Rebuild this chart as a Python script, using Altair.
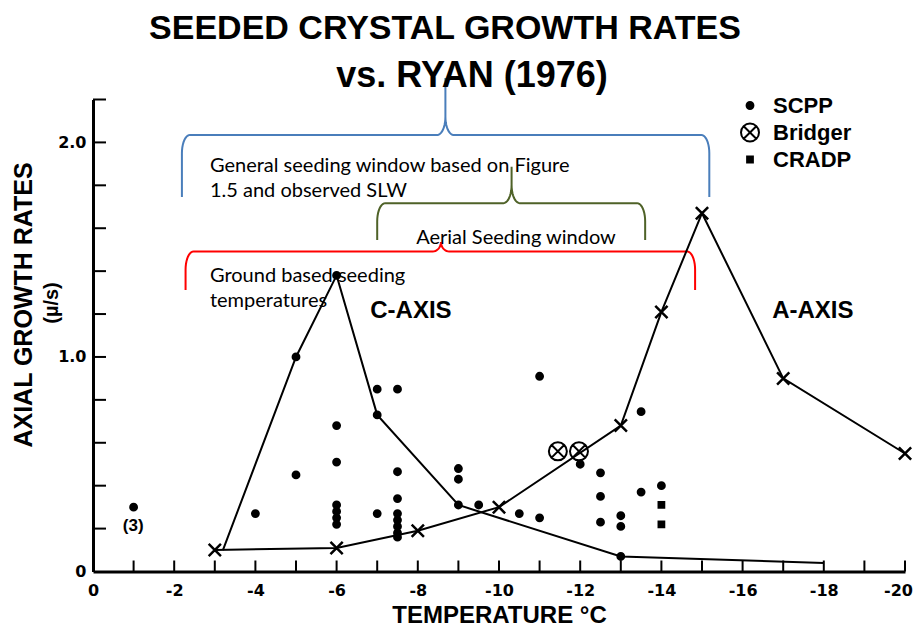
import math
import altair as alt
import pandas as pd

# ---------------- data ----------------
# Ryan (1976) reference curves
ryan_c_temp = [-3.2, -5.0, -6.0, -7.0, -9.0, -13.0, -18.0]
ryan_c_rate = [0.10, 1.00, 1.38, 0.73, 0.31, 0.07, 0.04]
ryan_a_temp = [-3.0, -6.0, -8.0, -10.0, -13.0, -14.0, -15.0, -17.0, -20.0]
ryan_a_rate = [0.10, 0.11, 0.19, 0.30, 0.68, 1.21, 1.67, 0.90, 0.55]

# observations
scpp_temp = [-1.0, -4.0, -5.0, -5.0, -6.0, -6.0, -6.0, -6.0, -6.0, -6.0, -6.0,
             -7.0, -7.0, -7.0, -7.5, -7.5, -7.5, -7.5, -7.5, -7.5, -7.5, -7.5,
             -9.0, -9.0, -9.0, -9.5, -10.5, -11.0, -11.0, -12.0, -12.5, -12.5,
             -12.5, -13.0, -13.0, -13.0, -13.5, -13.5, -14.0]
scpp_rate = [0.30, 0.27, 1.00, 0.45, 1.38, 0.68, 0.51, 0.31, 0.28, 0.25, 0.22,
             0.85, 0.73, 0.27, 0.85, 0.465, 0.34, 0.27, 0.24, 0.21, 0.18, 0.16,
             0.48, 0.43, 0.31, 0.31, 0.27, 0.91, 0.25, 0.50, 0.46, 0.35,
             0.23, 0.26, 0.21, 0.07, 0.745, 0.37, 0.40]
bridger_temp = [-11.45, -11.97]
bridger_rate = [0.56, 0.56]
cradp_temp = [-14.0, -14.0]
cradp_rate = [0.31, 0.22]

sources = ["SCPP", "Bridger", "CRADP"]

# axis ticks
x_label_values = list(range(0, -21, -2))
x_minor_ticks = list(range(-1, -21, -1))
y_label_values = [0, 1.0, 2.0]
y_minor_ticks = [round(0.2 * i, 1) for i in range(1, 12)]

# seeding-window braces (temperature range, bar level, arm end, tip)
brace_names = ["General", "Aerial", "Ground"]
brace_left = [-2.19, -7.0, -2.28]
brace_right = [-15.18, -13.6, -14.83]
brace_center = [-8.68, -10.31, -8.57]
brace_bar = [2.035, 1.717, 1.492]
brace_end = [1.746, 1.545, 1.312]
brace_tip = [2.30, 1.887, 1.536]
brace_colors = ["#4A7EBB", "#4F6228", "#FF0000"]

# annotation texts
note_text = ["General seeding window based on Figure", "1.5 and observed SLW",
             "Aerial Seeding window", "Ground based seeding", "temperatures"]
note_temp = [-2.88, -2.88, -7.96, -2.88, -2.88]
note_rate = [1.89, 1.774, 1.555, 1.378, 1.261]

curve_labels = ["C-AXIS", "A-AXIS"]
curve_label_temp = [-7.83, -17.73]
curve_label_rate = [1.212, 1.212]

# ---------------- chart construction ----------------
W, H = 812, 472
FONT = "Liberation Sans"

xs = alt.Scale(domain=[-20, 0], reverse=True, nice=False, zero=False)
ys = alt.Scale(domain=[0, 2.2], nice=False, zero=False)

xaxis = alt.Axis(values=x_label_values,
                 labelExpr="datum.value == 0 ? '0' : '-' + abs(datum.value)",
                 labelOffset={"condition": {"test": "datum.value == -20", "value": -7}, "value": 0},
                 ticks=False, grid=False, domainWidth=3, domainColor="black",
                 labelFont="DejaVu Sans", labelFontWeight="bold", labelFontSize=16,
                 labelColor="black", labelPadding=11, labelFlush=False, labelOverlap=False,
                 title="TEMPERATURE °C", titleFont=FONT, titleFontWeight="bold",
                 titleFontSize=24, titleColor="black", titlePadding=5)
yaxis = alt.Axis(values=y_label_values,
                 labelExpr="datum.value == 0 ? '0' : format(datum.value, '.1f')",
                 ticks=False, grid=False, domainWidth=3, domainColor="black",
                 labelFont="DejaVu Sans", labelFontWeight="bold", labelFontSize=16,
                 labelColor="black", labelPadding=7, labelFlush=False, labelOverlap=False,
                 title=None)

X = alt.X("t:Q", scale=xs, axis=xaxis)
Y = alt.Y("r:Q", scale=ys, axis=yaxis)


def brace_rows(name, xl, xr, xc, yb, ye, yt, rx=0.2, ry=0.085, n=10):
    ul, ur, uc = -xl, -xr, -xc
    ryt = min(ry, yt - yb)
    pts = [(ul, ye), (ul, yb - ry)]
    for k in range(1, n + 1):
        a = k / n * math.pi / 2
        pts.append((ul + rx - rx * math.cos(a), yb - ry + ry * math.sin(a)))
    pts.append((uc - rx, yb))
    for k in range(1, n + 1):
        a = k / n * math.pi / 2
        pts.append((uc - rx + rx * math.sin(a), yb + ryt - ryt * math.cos(a)))
    pts.append((uc, yt))
    for k in range(0, n + 1):
        a = k / n * math.pi / 2
        pts.append((uc + rx - rx * math.cos(a), yb + ryt - ryt * math.sin(a)))
    pts.append((ur - rx, yb))
    for k in range(1, n + 1):
        a = k / n * math.pi / 2
        pts.append((ur - rx + rx * math.sin(a), yb - ry + ry * math.cos(a)))
    pts.append((ur, ye))
    return [{"brace": name, "i": i, "t": -u, "r": v} for i, (u, v) in enumerate(pts)]


brace_records = []
for j in range(len(brace_names)):
    brace_records += brace_rows(brace_names[j], brace_left[j], brace_right[j], brace_center[j],
                                brace_bar[j], brace_end[j], brace_tip[j])
brace_df = pd.DataFrame(brace_records)

braces = alt.Chart(brace_df).mark_line(strokeWidth=2, clip=False).encode(
    x=X, y=Y, detail="brace:N", order="i:Q",
    color=alt.Color("brace:N", scale=alt.Scale(domain=brace_names, range=brace_colors), legend=None))

ryan_df = pd.DataFrame(
    [{"curve": "C", "i": i, "t": t, "r": r} for i, (t, r) in enumerate(zip(ryan_c_temp, ryan_c_rate))]
    + [{"curve": "A", "i": i, "t": t, "r": r} for i, (t, r) in enumerate(zip(ryan_a_temp, ryan_a_rate))])

ryan_lines = alt.Chart(ryan_df).mark_line(color="black", strokeWidth=2).encode(
    x=X, y=Y, detail="curve:N", order="i:Q")

X_PATH = "M-1,-1L1,1M-1,1L1,-1"
ryan_marks = alt.Chart(pd.DataFrame({"t": ryan_a_temp, "r": ryan_a_rate})).mark_point(
    shape=X_PATH, size=150, strokeWidth=2.5, color="black", filled=False, opacity=1).encode(x=X, y=Y)

obs_df = pd.DataFrame(
    [{"source": "SCPP", "t": t, "r": r} for t, r in zip(scpp_temp, scpp_rate)]
    + [{"source": "Bridger", "t": t, "r": r} for t, r in zip(bridger_temp, bridger_rate)]
    + [{"source": "CRADP", "t": t, "r": r} for t, r in zip(cradp_temp, cradp_rate)])

DOT = "M-0.38,0A0.38,0.38,0,1,1,0.38,0A0.38,0.38,0,1,1,-0.38,0Z"
OTIMES = "M-1,0A1,1,0,1,1,1,0A1,1,0,1,1,-1,0ZM-0.7,-0.7L0.7,0.7M-0.7,0.7L0.7,-0.7"
SQUARE = "M-0.32,-0.32L0.32,-0.32L0.32,0.32L-0.32,0.32Z"

legend = alt.Legend(title=None, orient="none", legendX=646, legendY=-5,
                    labelFont=FONT, labelFontWeight="bold", labelFontSize=22,
                    labelColor="black", symbolSize=324, symbolStrokeWidth=2,
                    rowPadding=3, labelOffset=12, padding=0)

obs = alt.Chart(obs_df).mark_point(size=324, strokeWidth=2, opacity=1).encode(
    x=X, y=Y,
    shape=alt.Shape("source:N", scale=alt.Scale(domain=sources, range=[DOT, OTIMES, SQUARE]), legend=legend),
    fill=alt.Fill("source:N", scale=alt.Scale(domain=sources, range=["black", "transparent", "black"]), legend=legend),
    stroke=alt.Stroke("source:N", scale=alt.Scale(domain=sources, range=["black", "black", "black"]), legend=legend),
)

# inward tick marks
ytick_layer = alt.Chart(pd.DataFrame({"r": y_minor_ticks})).mark_rule(color="black", strokeWidth=2).encode(
    y=Y, x=alt.value(0), x2=alt.value(13))
xtick_layer = alt.Chart(pd.DataFrame({"t": x_minor_ticks})).mark_rule(color="black", strokeWidth=2).encode(
    x=X, y=alt.value(H), y2=alt.value(H - 11))

notes = alt.Chart(pd.DataFrame({"t": note_temp, "r": note_rate, "label": note_text})).mark_text(
    align="left", baseline="middle", font="Lato", fontSize=20, color="black").encode(
    x=X, y=Y, text="label:N")

curve_text = alt.Chart(pd.DataFrame({"t": curve_label_temp, "r": curve_label_rate, "label": curve_labels})).mark_text(
    align="center", baseline="middle", font=FONT, fontWeight="bold", fontSize=24, color="black").encode(
    x=X, y=Y, text="label:N")

count_text = alt.Chart(pd.DataFrame({"t": [-0.99], "r": [0.21], "label": ["(3)"]})).mark_text(
    align="center", baseline="middle", font=FONT, fontWeight="bold", fontSize=17, color="black").encode(
    x=X, y=Y, text="label:N")


def pixel_text(label, px, py, size, angle=0, baseline="alphabetic", weight="bold"):
    return alt.Chart(pd.DataFrame({"label": [label]})).mark_text(
        align="center", baseline=baseline, font=FONT, fontWeight=weight, fontSize=size,
        color="black", angle=angle).encode(text="label:N", x=alt.value(px), y=alt.value(py))


title1 = pixel_text("SEEDED CRYSTAL GROWTH RATES", 352, -60.5, 34)
title2 = pixel_text("vs. RYAN (1976)", 379, -12.5, 36)
ytitle = pixel_text("AXIAL GROWTH RATES", -69, 205.5, 25, angle=270, baseline="middle")
yunit = pixel_text("(µ/s)", -41, 203.5, 20, angle=270, baseline="middle")

chart = alt.layer(
    braces, ryan_lines, ytick_layer, xtick_layer, ryan_marks, obs,
    notes, curve_text, count_text, title1, title2, ytitle, yunit,
).properties(
    width=W, height=H,
    autosize=alt.AutoSizeParams(type="none"),
    padding={"left": 85, "top": 91.5, "right": 8, "bottom": 55},
    background="white",
).configure_view(stroke=None)

chart.save("out.html", embed_options={"renderer": "svg", "actions": False})
